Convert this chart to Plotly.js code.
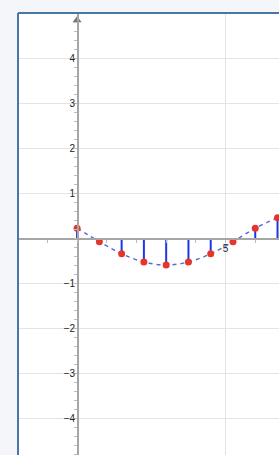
<!DOCTYPE html>
<html>
<head>
<meta charset="utf-8">
<script src="https://cdn.plot.ly/plotly-3.0.1.min.js"></script>
<style>
html,body{margin:0;padding:0;background:#f4f6f9;}
#chart{width:279px;height:455px;}
</style>
</head>
<body>
<div id="chart"></div>
<script>
// Data
const xs = [0, 0.75, 1.5, 2.25, 3, 3.75, 4.5, 5.25, 6, 6.75];
const ys = [0.22, -0.08, -0.35, -0.53, -0.6, -0.53, -0.35, -0.08, 0.22, 0.45];
const yTickVals = [-4, -3, -2, -1, 1, 2, 3, 4];
const yTickText = ['\u22124', '\u22123', '\u22122', '\u22121', '1', '2', '3', '4'];
const xTickVals = [5];
const xTickText = ['5'];

const xRange = [-1.99, 6.8];
const yRange = [-4.82, 5.0];

// stems built from the data arrays
const stemX = [], stemY = [];
xs.forEach((x, i) => { stemX.push(x, x, null); stemY.push(0, ys[i], null); });

const traces = [
  {x: xs, y: ys, type: 'scatter', mode: 'lines', hoverinfo: 'skip',
   line: {color: '#5a68dc', width: 1.5, dash: '4px,4px', shape: 'spline', smoothing: 1}},
  {x: stemX, y: stemY, type: 'scatter', mode: 'lines', hoverinfo: 'skip',
   line: {color: '#1f35e8', width: 2}},
  {x: xs, y: ys, type: 'scatter', mode: 'markers', hoverinfo: 'skip',
   marker: {color: '#e5362b', size: 7}},
  {x: [0], y: [4.84], type: 'scatter', mode: 'markers', hoverinfo: 'skip', cliponaxis: false,
   marker: {symbol: 'triangle-up', color: '#777', size: 8}}
];

const font = {family: 'Liberation Sans, Arial, sans-serif', size: 10, color: '#222'};
const xPosY = (0 - yRange[0]) / (yRange[1] - yRange[0]);
const yPosX = (0 - xRange[0]) / (xRange[1] - xRange[0]);

const layout = {
  width: 279, height: 455,
  margin: {l: 18, t: 13, r: 0, b: 0, pad: 0},
  paper_bgcolor: '#f4f6f9',
  plot_bgcolor: '#ffffff',
  showlegend: false,
  font: font,
  xaxis: {
    range: xRange, anchor: 'free', position: xPosY,
    tickvals: xTickVals, ticktext: xTickText,
    showgrid: true, gridcolor: '#e4e4e4', gridwidth: 1,
    zeroline: false, showline: true, linecolor: '#a6a6a6', linewidth: 1.5,
    ticks: '', tickfont: font,
    minor: {dtick: 1, ticks: 'outside', ticklen: 3, tickcolor: '#bbb', showgrid: false},
    fixedrange: true
  },
  yaxis: {
    range: yRange, anchor: 'free', position: yPosX,
    tickvals: yTickVals, ticktext: yTickText,
    showgrid: true, gridcolor: '#e4e4e4', gridwidth: 1,
    zeroline: false, showline: true, linecolor: '#a6a6a6', linewidth: 1.5,
    ticks: '', tickfont: font,
    minor: {dtick: 0.2, ticks: 'outside', ticklen: 3, tickcolor: '#bbb', showgrid: false},
    fixedrange: true
  },
  shapes: [
    {type: 'line', xref: 'paper', yref: 'paper', x0: 0, x1: 1, y0: 1, y1: 1,
     line: {color: '#4a76a6', width: 2}},
    {type: 'line', xref: 'paper', yref: 'paper', x0: 0, x1: 0, y0: 0, y1: 1,
     line: {color: '#4a76a6', width: 2}}
  ]
};

Plotly.newPlot('chart', traces, layout, {displayModeBar: false, staticPlot: true});
</script>
</body>
</html>
